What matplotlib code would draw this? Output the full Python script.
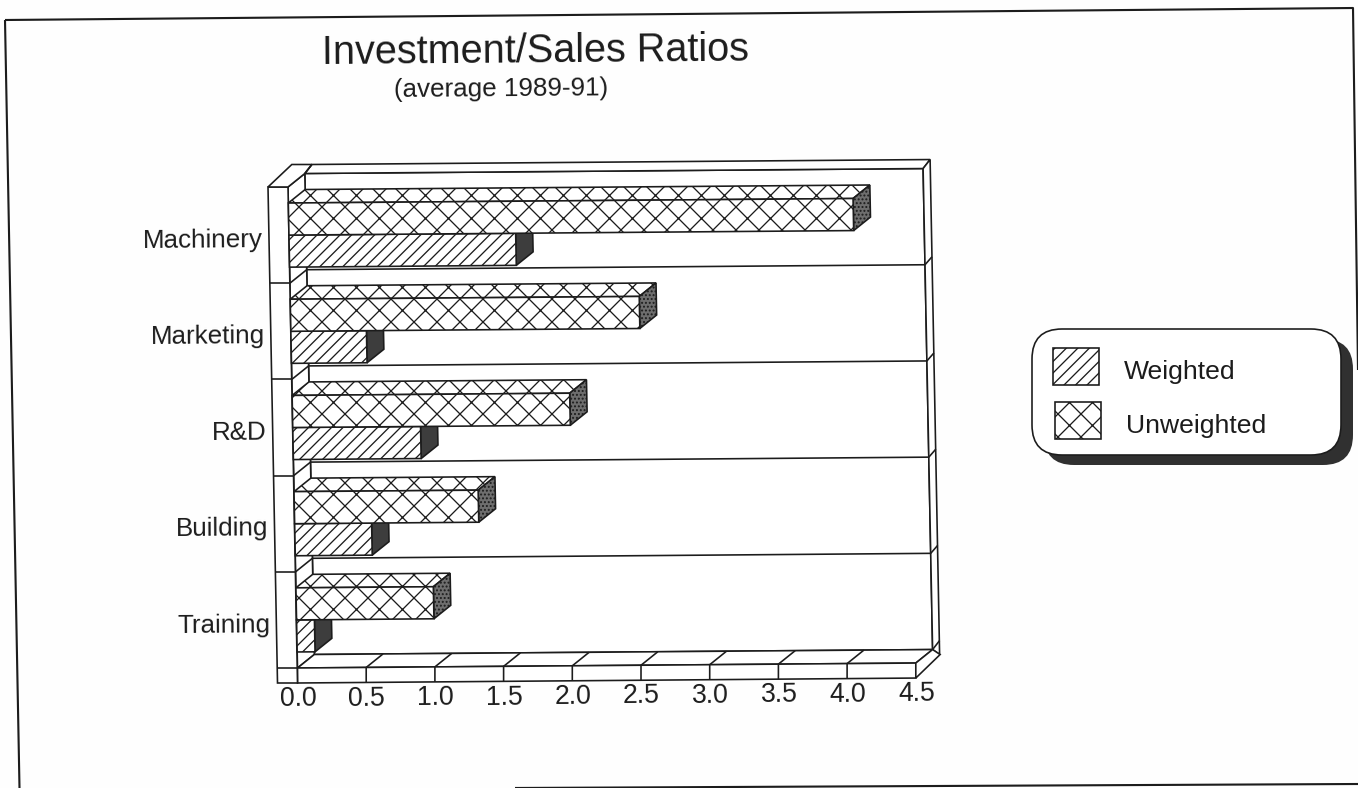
import matplotlib
matplotlib.use("Agg")
import matplotlib.pyplot as plt
from matplotlib.patches import Polygon, FancyBboxPatch, Rectangle
from matplotlib.transforms import Affine2D, IdentityTransform
import numpy as np

# ---- data ----
categories = ["Machinery", "Marketing", "R&D", "Building", "Training"]
unweighted = [4.11, 2.54, 2.02, 1.34, 1.00]
weighted = [1.65, 0.55, 0.93, 0.56, 0.13]
xticks = [0.0, 0.5, 1.0, 1.5, 2.0, 2.5, 3.0, 3.5, 4.0, 4.5]
title = "Investment/Sales Ratios"
subtitle = "(average 1989-91)"
legend_labels = ["Weighted", "Unweighted"]

# ---- style / geometry ----
W, H = 1358, 788
DPI = 138
INK = "#1c1c1c"
FONT = "Liberation Sans"
LW = 0.85
plt.rcParams["hatch.linewidth"] = 0.68
plt.rcParams["hatch.color"] = INK
plt.rcParams["font.family"] = FONT

fig = plt.figure(figsize=((W + 0.01) / DPI, (H + 0.01) / DPI), dpi=DPI, facecolor="#fefefe")
ax = fig.add_axes([0, 0, 1, 1])
ax.axis("off")
ax.set_autoscale_on(False)

# Scales: one value unit / one category band in pixels, with origin of the front plane
UX, UY = 137.4, 96.2
OX, OY = 297.5, 668.0
ax.set_xlim(-OX / UX, (W - OX) / UX)
ax.set_ylim((OY - H) / UY, OY / UY)
# slight scan skew applied after the axes' scales
ox_d, oy_d = OX, H - OY
skew = Affine2D.from_values(1, 1.1 / 137.4, -9.5 / 481, 1,
                            9.5 / 481 * oy_d, -1.1 / 137.4 * ox_d)
tr = ax.transData + skew
DEPTH = np.array([16.8, 13.5])   # display px for the 3-D depth
n = len(categories)
vmax = xticks[-1]
ypos = [n - 1 - i + 0.5 for i in range(n)]
BH = 1 / 3


def P(v, c, d=0.0, off=(0, 0)):
    """display point for value v, category coordinate c, depth fraction d"""
    p = tr.transform((v, c))
    return p + d * DEPTH + np.array(off)


def poly(pts, fc="white", z=2, **kw):
    kw.setdefault("edgecolor", INK)
    kw.setdefault("linewidth", LW)
    pp = Polygon(np.array(pts), closed=True, facecolor=fc, transform=IdentityTransform(),
                 zorder=z, joinstyle="miter", **kw)
    ax.add_patch(pp)
    return pp


def line(pts, z=2, lw=LW, color=INK):
    a = np.array(pts)
    ax.plot(a[:, 0], a[:, 1], color=color, lw=lw, transform=IdentityTransform(),
            zorder=z, solid_capstyle="butt", clip_on=False)


def px(x, y):
    return (x, H - y)


# page border of the scanned sheet
line([px(5, 20), px(1353, 8), px(1358, 370)], lw=1.1)
line([px(5, 20), px(19.5, 788)], lw=1.1)
line([px(515, 788), px(1358, 784)], lw=1.1)

# ---- 3-D frame ----
TW = np.array([-20, 0])         # thickness of left wall
FB = np.array([0, -15])         # thickness of floor
BK = np.array([7, 9])           # thickness of back wall
# back wall
poly([P(0, 0, 1), P(vmax, 0, 1), P(vmax, n, 1), P(0, n, 1)], z=1)
# top slab of back wall
poly([P(0, n, 1), P(0, n, 1, BK), P(vmax, n, 1, BK), P(vmax, n, 1)], z=1)
# right slab of back wall
poly([P(vmax, n, 1), P(vmax, n, 1, BK), P(vmax, 0, 1, BK + np.array([0, -14])),
      P(vmax, 0, 1, (0, 0))], z=1)
# floor
poly([P(0, 0), P(vmax, 0), P(vmax, 0, 1), P(0, 0, 1)], z=1.5)
poly([P(0, 0), P(vmax, 0), P(vmax, 0, 0, FB), P(0, 0, 0, FB)], z=1.5)
poly([P(vmax, 0), P(vmax, 0, 1), P(vmax, 0, 1, (7.5, -5)), P(vmax, 0, 0, FB)], z=1.5)
line([P(vmax, 0, 1), P(vmax, 0, 1, (7, 9))], z=1.6)
for t in xticks[1:-1]:
    line([P(t, 0, 0, FB), P(t, 0), P(t, 0, 1)], z=1.6)
# left wall: side and front
poly([P(0, 0), P(0, n), P(0, n, 1), P(0, 0, 1)], z=1.2)
poly([P(0, 0, 0, FB + TW), P(0, 0, 0, FB), P(0, n), P(0, n, 0, TW)], z=1.7)
line([P(0, 0, 0, TW), P(0, 0)], z=1.8)
poly([P(0, n, 0, TW), P(0, n), P(0, n, 1), P(0, n, 1, BK), P(0, n, 1, BK + np.array([-20, 0]))], z=1.7)
line([P(0, n, 1), P(0, n, 1, BK)], z=1.8)
# band separators
for k in range(1, n):
    line([P(0, k, 0, TW), P(0, k)], z=1.8)
    line([P(0, k), P(0, k, 1), P(vmax, k, 1), P(vmax, k, 1, (7, 8))], z=1.3)

# ---- bars ----
for i in range(n):
    y = ypos[i]
    yw, yu = y - BH / 2, y + BH / 2
    # weighted: side then front
    vw, vu = weighted[i], unweighted[i]
    poly([P(vw, yw - BH / 2), P(vw, yw + BH / 2), P(vw, yw + BH / 2, 1), P(vw, yw - BH / 2, 1)],
         fc="#3d3d3d", z=3)
    ax.barh(yw, vw, height=BH, left=0, transform=tr, facecolor="white", edgecolor=INK,
            linewidth=LW, hatch="////", zorder=3.1)
    # unweighted: top, side, front (covers the hidden part of the weighted side)
    top = yu + BH / 2
    poly([P(0, top), P(vu, top), P(vu, top, 1), P(0, top, 1)], hatch="xx", z=3.2)
    poly([P(vu, yu - BH / 2), P(vu, top), P(vu, top, 1), P(vu, yu - BH / 2, 1)],
         fc="#6e6e6e", hatch="......", z=3.2)
    ax.barh(yu, vu, height=BH, left=0, transform=tr, facecolor="white", edgecolor=INK,
            linewidth=LW, hatch="xx", zorder=3.3)


# ---- text ----
def txt(x, y, s, size, ha="left", va="center", rot=0.45):
    ax.text(x, y, s, fontsize=size, ha=ha, va=va, color=INK, rotation=rot,
            rotation_mode="anchor", transform=IdentityTransform(), zorder=6, family=FONT)


# tick labels follow the skewed scales
for t in xticks:
    p = P(t, 0, 0, FB + np.array([0.5, -16]))
    txt(p[0], p[1], f"{t:.1f}", 13.9, ha="center")
for i, c in enumerate(categories):
    p = P(0, ypos[i], 0, TW + np.array([-6, -5]))
    txt(p[0], p[1], c, 13.6, ha="right")

txt(*px(322, 64), title, 20.7, va="baseline")
txt(*px(394, 90), subtitle, 13.6)

# ---- legend ----
bx0, by0, bx1, by1 = 1032, 329, 1341, 455
shadow = FancyBboxPatch(px(bx0 + 12, by1 + 10), bx1 - bx0, by1 - by0,
                        boxstyle="round,pad=0,rounding_size=30", facecolor="#303030",
                        edgecolor="none", transform=IdentityTransform(), zorder=4)
ax.add_patch(shadow)
box = FancyBboxPatch(px(bx0, by1), bx1 - bx0, by1 - by0,
                     boxstyle="round,pad=0,rounding_size=30", facecolor="white",
                     edgecolor=INK, linewidth=LW, transform=IdentityTransform(), zorder=4.1)
ax.add_patch(box)
for (x0, y0, hatch, lbl, tx, ty) in [
    (1053, 348, "////", legend_labels[0], 1124, 372),
    (1055, 402, "xx", legend_labels[1], 1126, 426),
]:
    ax.add_patch(Rectangle(px(x0, y0 + 37), 46, 37, facecolor="white", edgecolor=INK,
                           linewidth=LW, hatch=hatch, transform=IdentityTransform(), zorder=5))
    txt(tx, H - ty, lbl, 13.8, rot=0)

fig.savefig("out.png", dpi=DPI, facecolor=fig.get_facecolor())
